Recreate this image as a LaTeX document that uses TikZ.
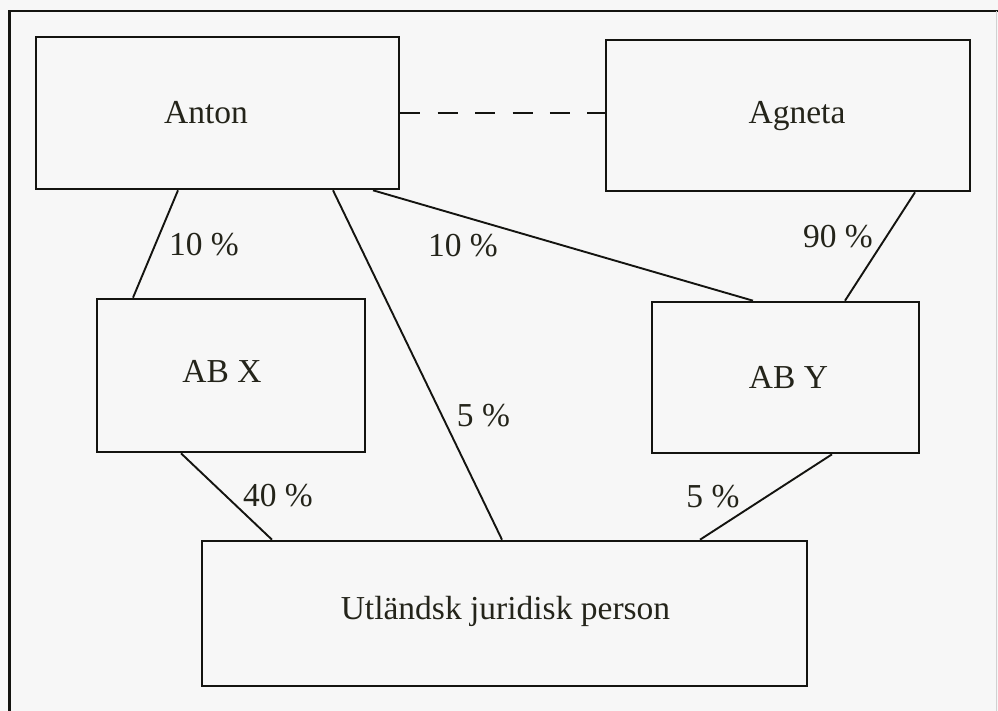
\documentclass[tikz,border=0pt]{standalone}
\usepackage{fontspec}
\setmainfont{Liberation Serif}
\definecolor{bg}{HTML}{F7F7F7}
\definecolor{txt}{HTML}{24241A}
\definecolor{ln}{HTML}{141410}
\begin{document}
\begin{tikzpicture}[x=1pt,y=-1pt,
  box/.style={draw=ln,line width=2.6pt,fill=bg,inner sep=0pt,rectangle},
  lbl/.style={anchor=base,inner sep=0pt,text=txt,font=\fontsize{33.5}{37}\selectfont},
  conn/.style={draw=ln,line width=1.9pt}]
\fill[bg] (0,0) rectangle (998,711);
\useasboundingbox (0,0) rectangle (998,711);
% outer frame
\draw[ln,line width=2.8pt] (9.5,711) -- (9.5,11) -- (998,11);
\draw[black!18,line width=1pt] (996.5,11) -- (996.5,711);
% boxes
\node[box,minimum width=363pt,minimum height=152pt] (anton) at (217.5,113) {};
\node[box,minimum width=364pt,minimum height=151pt] (agneta) at (788,115.5) {};
\node[box,minimum width=268pt,minimum height=153pt] (abx) at (231,375.5) {};
\node[box,minimum width=267pt,minimum height=151pt] (aby) at (785.5,377.5) {};
\node[box,minimum width=605pt,minimum height=145pt] (utl) at (504.5,613.5) {};
% box texts
\node[lbl] (tanton) at (206,124) {Anton};
\node[lbl] (tagneta) at (797,124) {Agneta};
\node[lbl] (tabx) at (222,382) {AB X};
\node[lbl] (taby) at (788.5,388) {AB Y};
\node[lbl] (tutl) at (505.5,619) {Utländsk juridisk person};
% connectors
\draw[conn] ([xshift=-39.5pt]anton.south) -- ([xshift=-98pt]abx.north);
\draw[conn] ([xshift=115.5pt]anton.south) -- ([xshift=-2.5pt]utl.north);
\draw[conn] ([xshift=155.5pt]anton.south) -- ([xshift=-32.5pt]aby.north);
\draw[conn] ([xshift=127pt]agneta.south) -- ([xshift=59.5pt]aby.north);
\draw[conn] ([xshift=-50pt]abx.south) -- ([xshift=-232.5pt]utl.north);
\draw[conn] ([xshift=46.5pt]aby.south) -- ([xshift=195.5pt]utl.north);
\draw[conn,dash pattern=on 20pt off 17.4pt] (anton.east) -- (anton.east -| agneta.west);
% percentages
\node[lbl] (p1) at (204,255) {10 \%};
\node[lbl] (p2) at (463,257) {10 \%};
\node[lbl] (p3) at (838,248) {90 \%};
\node[lbl] (p4) at (483.5,426) {5 \%};
\node[lbl] (p5) at (278,506) {40 \%};
\node[lbl] (p6) at (713,507) {5 \%};
\end{tikzpicture}
\end{document}
